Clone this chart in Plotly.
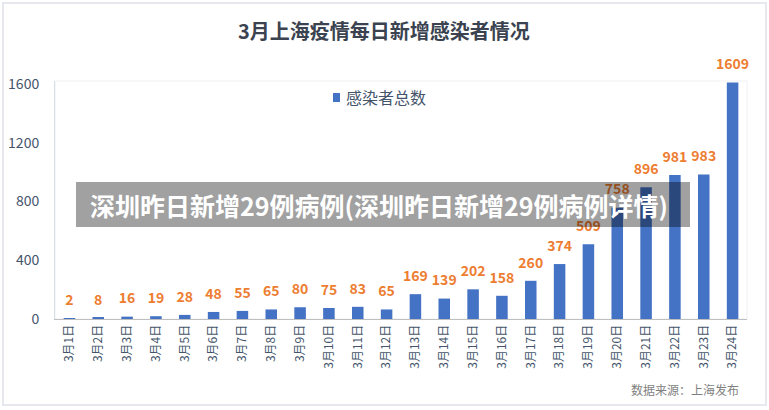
import plotly.graph_objects as go

categories = [f"3月{i}日" for i in range(1, 25)]
values = [2, 8, 16, 19, 28, 48, 55, 65, 80, 75, 83, 65, 169, 139, 202, 158,
          260, 374, 509, 758, 896, 981, 983, 1609]
y_ticks = [0, 400, 800, 1200, 1600]

title_text = "3月上海疫情每日新增感染者情况"
series_name = "感染者总数"
banner_text = "深圳昨日新增29例病例(深圳昨日新增29例病例详情)"
source_text = "数据来源：上海发布"

FONT = "Noto Sans CJK SC"
W, H = 769, 410
L, R, T, B = 55, 22, 81, 91
pw, ph = W - L - R, H - T - B


def px(x):
    return (x - L) / pw


def py(y):
    return (H - B - y) / ph


fig = go.Figure()
fig.add_trace(go.Bar(
    x=categories, y=values, name=series_name,
    marker=dict(color="#4472C4", line=dict(width=0)),
    showlegend=False, hoverinfo="x+y",
))
fig.add_trace(go.Scatter(
    x=categories, y=values, mode="markers+text",
    marker=dict(size=14, opacity=0),
    text=[str(v) for v in values], textposition="top center",
    textfont=dict(family=FONT, size=14, color="#ED7D31", weight="bold"),
    cliponaxis=False, showlegend=False, hoverinfo="skip",
))

fig.update_layout(
    width=W, height=H,
    margin=dict(l=L, r=R, t=T, b=B, autoexpand=False),
    paper_bgcolor="white", plot_bgcolor="white",
    bargap=0.6,
    font=dict(family=FONT, color="#44546A"),
    showlegend=False,
    xaxis=dict(
        range=[-0.5, len(categories) - 0.5], automargin=False,
        tickangle=-90, tickfont=dict(size=12, color="#44546A"),
        showline=True, linecolor="#BFBFBF", linewidth=1,
        showgrid=False, ticks="", ticklen=0,
    ),
    yaxis=dict(
        range=[0, 1620], tickvals=y_ticks, automargin=False,
        tickfont=dict(size=14, color="#44546A"),
        showgrid=False, zeroline=False, showline=True, linecolor="#D9DEE6",
        linewidth=1, ticks="", ticklabelstandoff=12,
    ),
    shapes=[
        dict(type="rect", xref="paper", yref="paper",
             x0=px(3), x1=px(766), y0=py(405), y1=py(3),
             line=dict(color="#E6E8EE", width=2), layer="below"),
        dict(type="rect", xref="paper", yref="paper",
             x0=0, x1=1, y0=0, y1=1,
             line=dict(color="#EEF0F4", width=1), layer="below"),
        dict(type="rect", xref="paper", yref="paper",
             x0=px(333), x1=px(340), y0=py(102), y1=py(93),
             fillcolor="#4472C4", line=dict(width=0)),
        dict(type="rect", xref="paper", yref="paper",
             x0=px(76), x1=px(690), y0=py(227), y1=py(182),
             fillcolor="rgba(0,0,0,0.37)", line=dict(width=0), layer="above"),
    ],
    annotations=[
        dict(text=f"<b>{title_text}</b>", xref="paper", yref="paper",
             x=px(384), y=py(30), showarrow=False, yanchor="middle",
             font=dict(family=FONT, size=20, color="#3B4350")),
        dict(text=series_name, xref="paper", yref="paper",
             x=px(344), y=py(97), xanchor="left", yanchor="middle", showarrow=False,
             font=dict(family=FONT, size=16, color="#44546A")),
        dict(text=source_text, xref="paper", yref="paper",
             x=px(741), y=py(389), xanchor="right", yanchor="middle", showarrow=False,
             font=dict(family=FONT, size=12, color="#7F7F7F")),
        dict(text=f"<b>{banner_text}</b>", xref="paper", yref="paper",
             x=px(88), y=py(205), xanchor="left", yanchor="middle", showarrow=False,
             font=dict(family=FONT, size=25, color="white")),
    ],
)

fig.write_html("out.html", config={"displayModeBar": False},
               post_script="document.body.style.margin='0';")
